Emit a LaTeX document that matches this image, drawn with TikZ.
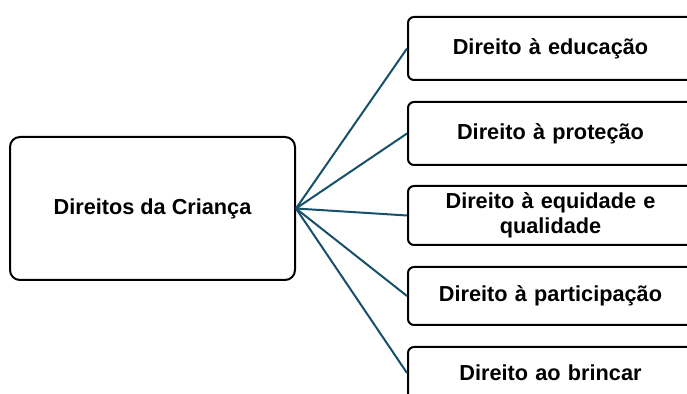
\documentclass[tikz,border=0pt]{standalone}
\usepackage{fontspec}
\setmainfont{Liberation Sans}
\usetikzlibrary{positioning}
\definecolor{ink}{RGB}{0,0,0}
\definecolor{tealine}{RGB}{22,80,107}
\tikzset{
  hubbox/.style={draw=ink,line width=2pt,rounded corners=10pt,fill=white,
    minimum width=285pt,minimum height=143pt,font=\bfseries\fontsize{21.7}{25}\selectfont,align=center},
  rightsbox/.style={draw=ink,line width=2pt,rounded corners=6pt,fill=white,
    minimum width=285pt,text width=280pt,inner sep=0pt,
    font=\bfseries\fontsize{21.7}{25}\selectfont,align=center},
  link/.style={tealine,line width=2pt},
}
\begin{document}
\begin{tikzpicture}[x=1pt,y=1pt]
  \useasboundingbox (0,0) rectangle (687,393);
  \clip (0,0) rectangle (687,393);
  \node[hubbox] (dc) at (152.5,184.5) {Direitos da Criança};
  \node[rightsbox,minimum height=63pt] (edu) at (550.5,344.5) {Direito à educação};
  \node[rightsbox,minimum height=63pt] (pro) at (550.5,259.5) {Direito à proteção};
  \node[rightsbox,minimum height=59pt] (equ) at (550.5,177.5) {Direito à equidade e\\ qualidade};
  \node[rightsbox,minimum height=58pt] (par) at (550.5,97) {Direito à participação};
  \node[rightsbox,minimum height=52pt] (bri) at (550.5,20) {Direito ao brincar};
  \foreach \r in {edu,pro,equ,par,bri}
    \draw[link] (dc.east) -- (\r.west);
\end{tikzpicture}
\end{document}
